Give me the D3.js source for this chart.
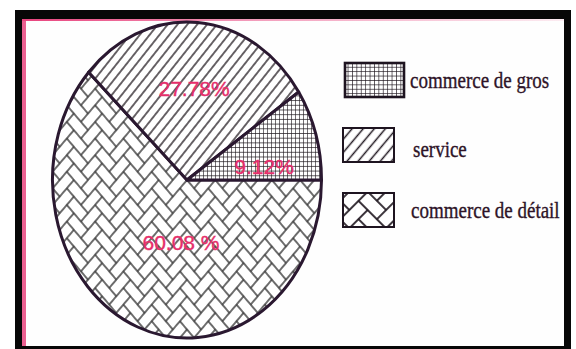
<!DOCTYPE html>
<html>
<head>
<meta charset="utf-8">
<script src="https://cdn.jsdelivr.net/npm/d3@7"></script>
<style>
  html, body { margin: 0; padding: 0; background: #ffffff; }
  svg { display: block; }
</style>
</head>
<body>
<svg id="chart" width="576" height="349"></svg>
<script>
// Répartition des entreprises par secteur
const categories = ["commerce de détail", "service", "commerce de gros"];
const shares = [60.08, 27.78, 9.12];
const shareLabels = ["60.08 %", "27.78%", "9.12%"];
const legendOrder = ["commerce de gros", "service", "commerce de détail"];

const patternOf = {
  "commerce de détail": "herring",
  "service": "hatch",
  "commerce de gros": "grid"
};

const svg = d3.select("#chart");
const defs = svg.append("defs");

// ---------- hatch patterns ----------
function gridPattern(id, step, width, color) {
  const p = defs.append("pattern").attr("id", id)
    .attr("patternUnits", "userSpaceOnUse")
    .attr("width", step).attr("height", step);
  p.append("rect").attr("width", step).attr("height", step).attr("fill", "#fff");
  p.append("path").attr("d", `M0,0H${step}M0,0V${step}`)
    .attr("stroke", color).attr("stroke-width", width).attr("fill", "none");
}

function linePattern(id, step, angle, width, color) {
  const p = defs.append("pattern").attr("id", id)
    .attr("patternUnits", "userSpaceOnUse")
    .attr("width", step).attr("height", step)
    .attr("patternTransform", `rotate(${angle})`);
  p.append("rect").attr("width", step).attr("height", step).attr("fill", "#fff");
  p.append("line").attr("x1", step / 2).attr("x2", step / 2)
    .attr("y1", 0).attr("y2", step)
    .attr("stroke", color).attr("stroke-width", width);
}

// classic herringbone: 2:1 bricks stepping along the diagonal, 4a x 4a repeat
function herringPattern(id, a, angle, width, color) {
  const n = 4, size = n * a;
  const p = defs.append("pattern").attr("id", id)
    .attr("patternUnits", "userSpaceOnUse")
    .attr("width", size).attr("height", size)
    .attr("patternTransform", `rotate(${angle})`);
  p.append("rect").attr("width", size).attr("height", size).attr("fill", "#fff");
  const bricks = [];
  for (let k = 0; k < n; k++) {
    bricks.push({ x: k, y: k, w: 2, h: 1 });
    bricks.push({ x: k, y: k + 1, w: 1, h: 2 });
  }
  const shifts = [-n, 0, n];
  bricks.forEach(b => {
    shifts.forEach(sx => shifts.forEach(sy => {
      p.append("rect")
        .attr("x", (b.x + sx) * a).attr("y", (b.y + sy) * a)
        .attr("width", b.w * a).attr("height", b.h * a)
        .attr("fill", "none").attr("stroke", color).attr("stroke-width", width);
    }));
  });
}

gridPattern("grid", 4, 1.25, "#201a20");
linePattern("hatch", 7.2, 43, 1.3, "#2a2228");
herringPattern("herring", 10, 45, 0.9, "#3a3a3a");

gridPattern("gridL", 4.4, 1.3, "#1c141c");
linePattern("hatchL", 8.5, 40, 1.5, "#221a22");
herringPattern("herringL", 13, 45, 1.3, "#221a22");

// ---------- frame ----------
const grad = defs.append("linearGradient").attr("id", "pinkTop")
  .attr("x1", 0).attr("x2", 1).attr("y1", 0).attr("y2", 0);
grad.append("stop").attr("offset", 0).attr("stop-color", "#e8447e").attr("stop-opacity", 1);
grad.append("stop").attr("offset", 0.45).attr("stop-color", "#e8447e").attr("stop-opacity", 0.5);
grad.append("stop").attr("offset", 1).attr("stop-color", "#e8447e").attr("stop-opacity", 0.1);

svg.append("rect").attr("x", 15).attr("y", 10).attr("width", 556).attr("height", 345)
  .attr("fill", "#070707");
svg.append("rect").attr("x", 22).attr("y", 19).attr("width", 542).attr("height", 327)
  .attr("fill", "#fefefe");
svg.append("rect").attr("x", 22).attr("y", 19).attr("width", 4).attr("height", 327)
  .attr("fill", "#e8447e").attr("opacity", 0.85);
svg.append("rect").attr("x", 22).attr("y", 19).attr("width", 542).attr("height", 2)
  .attr("fill", "url(#pinkTop)");

// ---------- pie ----------
const cx = 187, cy = 180, R = 134.5, sy = 158 / 134.5;

const pie = d3.pie().sort(null)
  .startAngle(Math.PI / 2)
  .endAngle(Math.PI / 2 + 2 * Math.PI);
const arcs = pie(shares);
const arc = d3.arc().innerRadius(0).outerRadius(R);

const gPie = svg.append("g")
  .attr("transform", `translate(${cx},${cy}) scale(1,${sy})`);

gPie.selectAll("path.slice")
  .data(arcs)
  .join("path")
  .attr("class", "slice")
  .attr("d", arc)
  .attr("fill", (d, i) => `url(#${patternOf[categories[i]]})`)
  .attr("stroke", "#2a1830")
  .attr("stroke-width", 3)
  .attr("stroke-linejoin", "round")
  .attr("vector-effect", "non-scaling-stroke");

// percentage labels, placed along each slice's bisector
const labelPlace = [
  { k: 0.395, turn: -0.262 },
  { k: 0.585, turn: 0.01 },
  { k: 0.58, turn: 0.143 }
];
svg.selectAll("text.pct")
  .data(arcs)
  .join("text")
  .attr("class", "pct")
  .attr("x", (d, i) => {
    const a = (d.startAngle + d.endAngle) / 2 + labelPlace[i].turn;
    return cx + R * labelPlace[i].k * Math.sin(a);
  })
  .attr("y", (d, i) => {
    const a = (d.startAngle + d.endAngle) / 2 + labelPlace[i].turn;
    return cy - R * labelPlace[i].k * Math.cos(a) * sy;
  })
  .attr("dy", "0.36em")
  .attr("text-anchor", "middle")
  .attr("font-family", "'Liberation Sans', Arial, sans-serif")
  .attr("font-size", 21)
  .attr("fill", "#e62f6b")
  .attr("stroke", "#e62f6b")
  .attr("stroke-width", 0.4)
  .text((d, i) => shareLabels[i]);

// ---------- legend ----------
const legendPattern = {
  "commerce de gros": "gridL",
  "service": "hatchL",
  "commerce de détail": "herringL"
};
const rowY = d3.scalePoint().domain(legendOrder).range([80, 210]);

const rows = svg.selectAll("g.legend")
  .data(legendOrder)
  .join("g")
  .attr("class", "legend")
  .attr("transform", d => `translate(0,${rowY(d)})`);

rows.append("rect")
  .attr("x", (d, i) => i === 0 ? 345 : 343)
  .attr("y", -17)
  .attr("width", (d, i) => i === 0 ? 59 : 51)
  .attr("height", 34)
  .attr("fill", d => `url(#${legendPattern[d]})`)
  .attr("stroke", "#1e1420")
  .attr("stroke-width", (d, i) => i === 0 ? 2.6 : 2);

rows.append("text")
  .attr("transform", (d, i) => `translate(${[410, 413, 411][i]},${[8, 12, 7.5][i]}) scale(1,1.2)`)
  .attr("font-family", "'Liberation Serif', 'Times New Roman', serif")
  .attr("font-size", 19)
  .attr("fill", "#2e1428")
  .attr("stroke", "#2e1428")
  .attr("stroke-width", 0.3)
  .text(d => d);
</script>
</body>
</html>
